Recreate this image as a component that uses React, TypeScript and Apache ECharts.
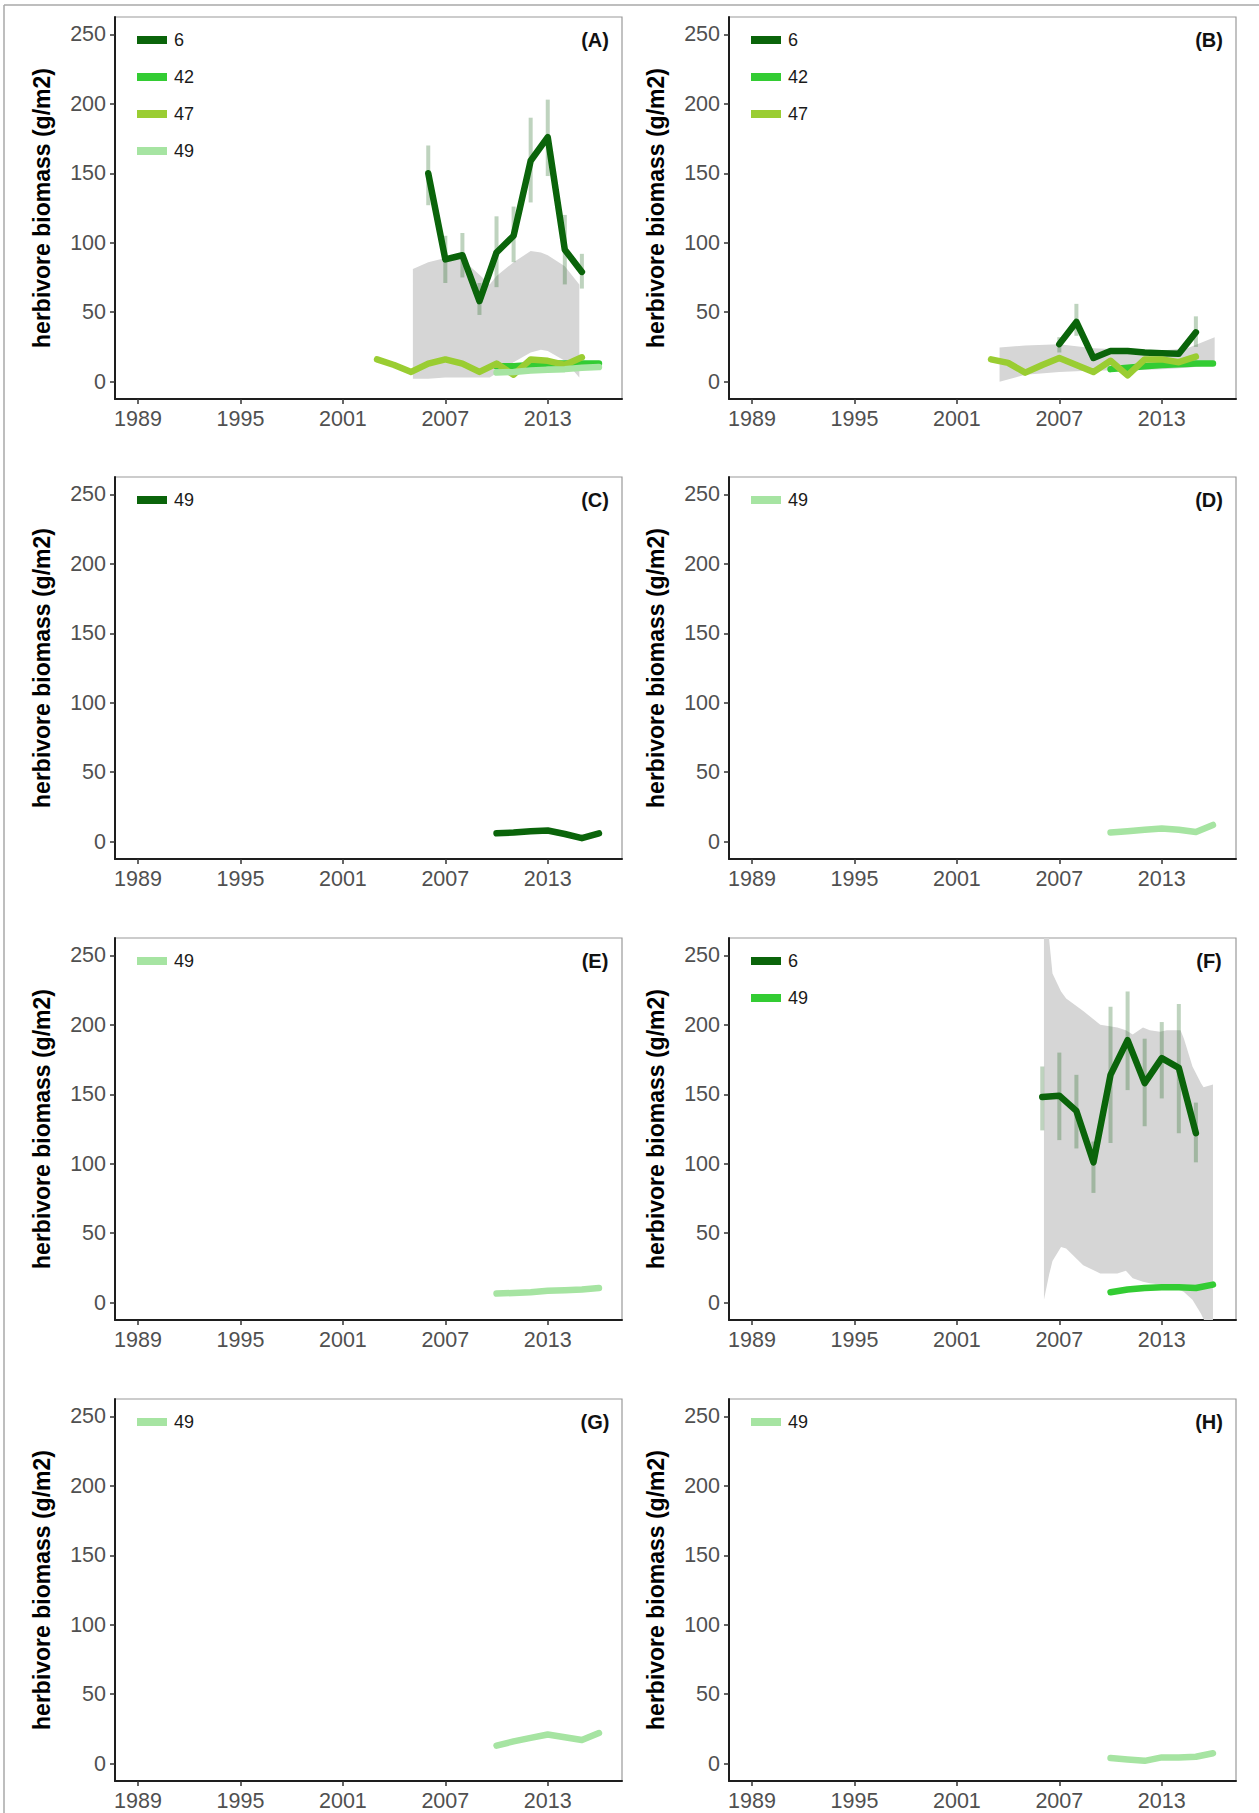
import React, { useEffect, useRef } from 'react';
import * as echarts from 'echarts';

// ---------- axis ticks ----------
const X_TICKS = [1989, 1995, 2001, 2007, 2013];
const Y_TICKS = [0, 50, 100, 150, 200, 250];
const PANEL_LABELS = ['(A)', '(B)', '(C)', '(D)', '(E)', '(F)', '(G)', '(H)'];
const Y_TITLE = 'herbivore biomass (g/m2)';

// ---------- Panel A ----------
const A_years6 = [2006, 2007, 2008, 2009, 2010, 2011, 2012, 2013, 2014, 2015];
const A_site6 = [150, 88, 91, 58, 93, 105, 159, 176, 95, 79];
const A_site6Low = [127, 71, 75, 48, 68, 86, 129, 148, 70, 67];
const A_site6High = [170, 105, 107, 71, 119, 126, 190, 203, 120, 92];
const A_years42 = [2010, 2011, 2012, 2013, 2014, 2015, 2016];
const A_site42 = [11, 11, 12, 13, 13, 13, 13];
const A_years47 = [2003, 2004, 2005, 2006, 2007, 2008, 2009, 2010, 2011, 2012, 2013, 2014, 2015];
const A_site47 = [16, 12, 7, 13, 16, 13, 7, 13, 5, 16, 15, 12, 17.5];
const A_years49 = [2010, 2011, 2012, 2013, 2014, 2015, 2016];
const A_site49 = [6.5, 7, 8, 8.5, 9, 10, 10.5];
const A_bandYears = [2005.1, 2006, 2007, 2008, 2009, 2009.6, 2010, 2011, 2012, 2012.6, 2013, 2014, 2014.85];
const A_bandLow = [2, 2, 3, 3, 3, 3, 6, 14, 21, 23, 22, 15, 3];
const A_bandHigh = [81, 86, 89, 88, 77, 70, 76, 86, 94, 93, 91, 83, 70];

// ---------- Panel B ----------
const B_years6 = [2007, 2008, 2009, 2010, 2011, 2012, 2013, 2014, 2015];
const B_site6 = [27, 43, 17, 22, 22, 21, 20.5, 20, 35.5];
const B_site6Low = [21, 33, 15, 20, 20, 19, 18.5, 18, 25];
const B_site6High = [32, 56, 19, 24, 24, 23, 22.5, 22, 47];
const B_years42 = [2010, 2011, 2012, 2013, 2014, 2015, 2016];
const B_site42 = [9, 10, 11, 12, 12.5, 13, 13];
const B_years47 = [2003, 2004, 2005, 2006, 2007, 2008, 2009, 2010, 2011, 2012, 2013, 2014, 2015];
const B_site47 = [16, 13.5, 6.5, 12, 17, 12, 7, 15, 4.5, 16, 16, 14, 18];
const B_bandYears = [2003.5, 2005, 2007, 2009, 2011, 2013, 2014.5, 2015.3, 2016.1];
const B_bandLow = [0, 5, 7, 8, 8, 9, 10, 11, 13];
const B_bandHigh = [24.5, 26, 27, 24, 23, 22.5, 24, 28, 32];

// ---------- Panels C, D, E, G, H (site 49 only) ----------
const years49 = [2010, 2011, 2012, 2013, 2014, 2015, 2016];
const C_site49 = [6, 6.5, 7.5, 8, 5.5, 2.5, 6];
const D_site49 = [6.5, 7.5, 8.5, 9.5, 8.5, 7, 12];
const E_site49 = [6.5, 7, 7.5, 8.5, 9, 9.5, 10.5];
const G_site49 = [13, 16, 18.5, 21, 19, 17, 22];
const H_site49 = [4, 3, 2, 4.5, 4.5, 5, 7.5];

// ---------- Panel F ----------
const F_years6 = [2006, 2007, 2008, 2009, 2010, 2011, 2012, 2013, 2014, 2015];
const F_site6 = [148, 149, 138, 101, 164, 189, 158, 176, 169, 122];
const F_site6Low = [124, 117, 111, 79, 115, 153, 127, 147, 122, 101];
const F_site6High = [170, 180, 164, 116, 213, 224, 190, 202, 215, 144];
const F_site49 = [7.5, 9.5, 10.5, 11, 11, 10.5, 13];
const F_bandYears = [2006.1, 2006.4, 2006.6, 2007.1, 2007.4, 2008.4, 2009.4, 2010.4, 2010.9, 2011.3, 2011.9, 2012.3, 2012.9, 2013.3, 2014.1, 2014.3, 2014.8, 2015.3, 2015.45, 2016.0];
const F_bandLow = [2, 20, 30, 40, 39, 27, 21, 21, 23, 17.5, 15, 14, 13, 12.5, 9, 7.7, 2, -8, -12, -20];
const F_bandHigh = [300, 262, 237, 224, 219, 210, 200, 198, 196, 193, 198, 196, 195, 196, 196, 190, 170, 158, 155, 157];

// ---------- colours ----------
const C_DARK = '#0a640a';
const C_LIME = '#33cc33';
const C_YG = '#9acd32';
const C_PALE = '#a6e4a2';

type LineDef = { key: string; color: string; years: number[]; values: number[] };
type Band = { years: number[]; low: number[]; high: number[] };
type Panel = { lines: LineDef[]; band?: Band; bars?: Band };

const PANELS: Panel[] = [
  {
    lines: [
      { key: '6', color: C_DARK, years: A_years6, values: A_site6 },
      { key: '42', color: C_LIME, years: A_years42, values: A_site42 },
      { key: '47', color: C_YG, years: A_years47, values: A_site47 },
      { key: '49', color: C_PALE, years: A_years49, values: A_site49 },
    ],
    band: { years: A_bandYears, low: A_bandLow, high: A_bandHigh },
    bars: { years: A_years6, low: A_site6Low, high: A_site6High },
  },
  {
    lines: [
      { key: '6', color: C_DARK, years: B_years6, values: B_site6 },
      { key: '42', color: C_LIME, years: B_years42, values: B_site42 },
      { key: '47', color: C_YG, years: B_years47, values: B_site47 },
    ],
    band: { years: B_bandYears, low: B_bandLow, high: B_bandHigh },
    bars: { years: B_years6, low: B_site6Low, high: B_site6High },
  },
  { lines: [{ key: '49', color: C_DARK, years: years49, values: C_site49 }] },
  { lines: [{ key: '49', color: C_PALE, years: years49, values: D_site49 }] },
  { lines: [{ key: '49', color: C_PALE, years: years49, values: E_site49 }] },
  {
    lines: [
      { key: '6', color: C_DARK, years: F_years6, values: F_site6 },
      { key: '49', color: C_LIME, years: years49, values: F_site49 },
    ],
    band: { years: F_bandYears, low: F_bandLow, high: F_bandHigh },
    bars: { years: F_years6, low: F_site6Low, high: F_site6High },
  },
  { lines: [{ key: '49', color: C_PALE, years: years49, values: G_site49 }] },
  { lines: [{ key: '49', color: C_PALE, years: years49, values: H_site49 }] },
];

// ---------- layout ----------
const COL_LEFT = [115, 729];
const ROW_TOP = [17, 477, 938, 1399];
const GRID_W = 507;
const GRID_H = 382;
const X_MIN = 1987.65;
const X_MAX = 2017.35;
const Y_MIN = -12.5;
const Y_MAX = 262.5;
const FONT = '"Liberation Sans", Arial, Helvetica, sans-serif';

type Pt = number[];
function clipHalf(pts: Pt[], inside: (p: Pt) => boolean, yLine: number): Pt[] {
  const out: Pt[] = [];
  for (let k = 0; k < pts.length; k++) {
    const cur = pts[k];
    const prev = pts[(k + pts.length - 1) % pts.length];
    const cIn = inside(cur);
    const pIn = inside(prev);
    const cross = () => {
      const t = (yLine - prev[1]) / (cur[1] - prev[1]);
      return [prev[0] + t * (cur[0] - prev[0]), yLine];
    };
    if (cIn) {
      if (!pIn) out.push(cross());
      out.push(cur);
    } else if (pIn) {
      out.push(cross());
    }
  }
  return out;
}

function buildOption() {
  const grid: any[] = [];
  const xAxis: any[] = [];
  const yAxis: any[] = [];
  const series: any[] = [];
  const legend: any[] = [];
  const graphic: any[] = [];

  PANELS.forEach((panel, i) => {
    const col = i % 2;
    const row = Math.floor(i / 2);
    const left = COL_LEFT[col];
    const top = ROW_TOP[row];
    grid.push({
      left, top, width: GRID_W, height: GRID_H,
      show: true, borderColor: '#9a9a9a', borderWidth: 1.2, backgroundColor: 'transparent',
      containLabel: false, outerBoundsMode: 'none',
    });
    xAxis.push({
      type: 'value', gridIndex: i, min: X_MIN, max: X_MAX,
      axisLine: { show: true, onZero: false, lineStyle: { color: '#1e1e1e', width: 2 } },
      axisTick: { show: true, length: 5, customValues: X_TICKS, lineStyle: { color: '#333', width: 1.5 } },
      axisLabel: { show: true, customValues: X_TICKS, margin: 9, color: '#505050', fontSize: 21.5, fontFamily: FONT, formatter: (v: number) => String(v) },
      splitLine: { show: false },
    });
    yAxis.push({
      type: 'value', gridIndex: i, min: Y_MIN, max: Y_MAX,
      name: Y_TITLE, nameLocation: 'middle', nameGap: 62, nameRotate: 90,
      nameTextStyle: { fontSize: 23, fontWeight: 'bold', color: '#000', fontFamily: FONT },
      axisLine: { show: true, onZero: false, lineStyle: { color: '#1e1e1e', width: 2 } },
      axisTick: { show: true, length: 5, customValues: Y_TICKS, lineStyle: { color: '#333', width: 1.5 } },
      axisLabel: { show: true, customValues: Y_TICKS, margin: 9, color: '#505050', fontSize: 21.5, fontFamily: FONT, formatter: (v: number) => String(v) },
      splitLine: { show: false },
    });

    if (panel.band) {
      const band = panel.band;
      series.push({
        type: 'custom', xAxisIndex: i, yAxisIndex: i, silent: true, z: 1, clip: true,
        data: [[band.years[0], band.low[0]]],
        renderItem: (params: any, api: any) => {
          const pts: Pt[] = [];
          for (let k = 0; k < band.years.length; k++) pts.push(api.coord([band.years[k], band.high[k]]));
          for (let k = band.years.length - 1; k >= 0; k--) pts.push(api.coord([band.years[k], band.low[k]]));
          const cs = params.coordSys;
          let clipped = clipHalf(pts, (p) => p[1] >= cs.y, cs.y);
          clipped = clipHalf(clipped, (p) => p[1] <= cs.y + cs.height, cs.y + cs.height);
          return { type: 'polygon', shape: { points: clipped }, style: { fill: '#d6d6d6' } };
        },
      });
    }
    if (panel.bars) {
      const bars = panel.bars;
      series.push({
        type: 'custom', xAxisIndex: i, yAxisIndex: i, silent: true, z: 2,
        data: bars.years.map((y, k) => [y, bars.low[k], bars.high[k]]),
        encode: { x: 0, y: [1, 2] },
        renderItem: (params: any, api: any) => {
          const x = api.value(0);
          const p1 = api.coord([x, api.value(1)]);
          const p2 = api.coord([x, api.value(2)]);
          return {
            type: 'line',
            shape: { x1: p1[0], y1: p1[1], x2: p2[0], y2: p2[1] },
            style: { stroke: 'rgba(40,110,40,0.3)', lineWidth: 4 },
          };
        },
      });
    }
    const names: any[] = [];
    panel.lines.forEach((ln) => {
      const name = `${PANEL_LABELS[i]}|${ln.key}`;
      names.push({ name, icon: 'rect', itemStyle: { color: ln.color, borderWidth: 0 } });
      series.push({
        type: 'line', name, xAxisIndex: i, yAxisIndex: i, silent: true, z: 3,
        data: ln.years.map((y, k) => [y, ln.values[k]]),
        showSymbol: false, symbol: 'none', color: ln.color,
        itemStyle: { color: ln.color },
        lineStyle: { color: ln.color, width: 6.5, cap: 'round', join: 'round' },
      });
    });
    legend.push({
      data: names, orient: 'vertical', left: left + 22, top: top + 14,
      itemWidth: 30, itemHeight: 8, itemGap: 19, padding: 0, selectedMode: false,
      itemStyle: { borderWidth: 0 },
      textStyle: { fontSize: 18, color: '#1a1a1a', fontFamily: FONT, padding: [0, 0, 0, 2] },
      formatter: (n: string) => n.split('|')[1],
    });
    graphic.push({
      type: 'text', x: left + GRID_W - 27, y: top + 23, silent: true,
      style: { text: PANEL_LABELS[i], font: `bold 20px ${FONT}`, fill: '#111', align: 'center', verticalAlign: 'middle' },
    });
  });

  // outer frame of the figure
  graphic.push({ type: 'line', silent: true, shape: { x1: 4, y1: 5, x2: 1259, y2: 5 }, style: { stroke: '#a8a8a8', lineWidth: 1.5 } });
  graphic.push({ type: 'line', silent: true, shape: { x1: 4, y1: 5, x2: 4, y2: 1813 }, style: { stroke: '#a8a8a8', lineWidth: 1.5 } });

  return {
    animation: false,
    backgroundColor: '#ffffff',
    grid, xAxis, yAxis, series, legend, graphic,
  };
}

export default function App() {
  const ref = useRef<HTMLDivElement>(null);
  useEffect(() => {
    if (!ref.current) return;
    const chart = echarts.init(ref.current, undefined, { renderer: 'svg' });
    chart.setOption(buildOption() as any);
    return () => chart.dispose();
  }, []);
  return (
    <div
      ref={ref}
      style={{ position: 'absolute', left: 0, top: 0, width: 1259, height: 1813, background: '#fff' }}
    />
  );
}
